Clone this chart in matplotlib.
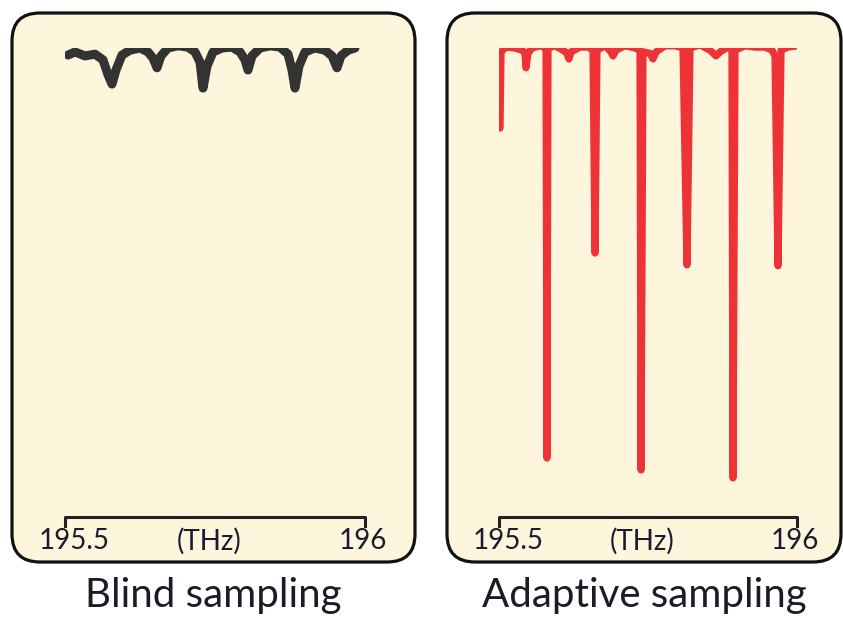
import matplotlib.pyplot as plt
from matplotlib.patches import FancyBboxPatch

plt.rcParams['font.family'] = ['Lato', 'DejaVu Sans']

# blind sampling trace (frequency in THz, normalized transmission)
blind_f = [195.505, 195.5167, 195.5333, 195.55, 195.5633, 195.5717, 195.5783, 195.585,
           195.595, 195.6083, 195.625, 195.6383, 195.6467, 195.6533, 195.66, 195.6717,
           195.6883, 195.705, 195.7167, 195.725, 195.73, 195.7367, 195.7467, 195.7617,
           195.7783, 195.7917, 195.8, 195.805, 195.8117, 195.825, 195.8417, 195.8583,
           195.8717, 195.8783, 195.8833, 195.89, 195.9, 195.9167, 195.9333, 195.945,
           195.9533, 195.96, 195.9717, 195.9833]
blind_t = [0.984, 0.991, 0.982, 0.986, 0.973, 0.939, 0.918, 0.950,
           0.984, 0.995, 1.0, 0.991, 0.977, 0.955, 0.982, 1.0,
           1.005, 1.002, 0.991, 0.968, 0.909, 0.959, 0.991, 1.0,
           1.002, 0.991, 0.973, 0.950, 0.982, 1.0, 1.005, 1.002,
           0.986, 0.950, 0.909, 0.959, 0.991, 1.0, 0.995, 0.982,
           0.955, 0.982, 0.995, 1.0]

# adaptive sampling trace
adapt_f = [195.5017, 195.5034, 195.5117, 195.5268, 195.5386, 195.5436, 195.5453, 195.5487,
           195.5554, 195.5688, 195.5789, 195.5805, 195.5822, 195.594, 195.6074, 195.6141,
           195.6174, 195.6208, 195.6359, 195.6493, 195.6577, 195.6611, 195.6644, 195.6779,
           195.6879, 195.6913, 195.6963, 195.7114, 195.7282, 195.7366, 195.7383, 195.7416,
           195.7534, 195.7584, 195.7634, 195.7785, 195.7953, 195.8087, 195.8154, 195.8205,
           195.8372, 195.854, 195.8641, 195.8708, 195.8842, 195.8909, 195.8926, 195.896,
           195.9128, 195.9295, 195.9463, 195.958, 195.9631, 195.9681, 195.9732, 195.9849,
           196.0]
adapt_t = [0.818, 0.991, 1.002, 1.0, 0.995, 0.988, 0.955, 0.988,
           1.0, 1.005, 1.0, 0.068, 1.0, 1.005, 0.995, 0.988,
           0.975, 0.991, 1.002, 1.002, 0.995, 0.534, 0.995, 1.005,
           0.991, 0.982, 0.995, 1.005, 1.0, 0.995, 0.041, 0.991,
           0.988, 0.975, 0.991, 1.005, 1.005, 1.0, 0.507, 1.0,
           1.007, 0.995, 0.982, 0.991, 1.002, 0.995, 0.023, 0.995,
           1.005, 1.002, 1.002, 0.995, 0.982, 0.505, 0.995, 1.002,
           1.005]

freq_range = [195.5, 196]
range_labels = ['195.5', '(THz)', '196']
titles = ['Blind sampling', 'Adaptive sampling']

W, H = 843, 620
fig = plt.figure(figsize=(W / 100, H / 100), dpi=100)

# background layer in pixel units for the rounded panels and titles
bg = fig.add_axes([0, 0, 1, 1])
bg.set_xlim(0, W)
bg.set_ylim(H, 0)
bg.axis('off')

panels = [(12, 13, 403, 549), (447, 13, 394, 549)]
for (x0, y0, w, h), title in zip(panels, titles):
    box = FancyBboxPatch((x0 + 28, y0 + 28), w - 56, h - 56,
                         boxstyle='round,pad=28', fc='#fdf5dc', ec='#111111', lw=2.3)
    bg.add_patch(box)
    bg.text(x0 + w / 2, 596, title, ha='center', va='center', fontsize=29, color='#1c1c28')

text_col = '#1c1c30'


def draw_panel(left_px, width_px, f, t, color, lw):
    ax = fig.add_axes([left_px / W, (H - 488) / H, width_px / W, 440 / H])
    ax.set_xlim(freq_range)
    ax.set_ylim(0, 1)
    ax.axis('off')
    ax.plot(f, t, color=color, lw=lw, solid_joinstyle='round', solid_capstyle='round')
    # frequency span bar
    ax.plot([freq_range[0], freq_range[0], freq_range[1], freq_range[1]],
            [-0.086, -0.066, -0.066, -0.086], color='#222222', lw=2.2, clip_on=False)
    mid = sum(freq_range) / 2
    ax.text(freq_range[0] + 0.016, -0.12, range_labels[0], ha='center', va='center',
            fontsize=20, color=text_col)
    ax.text(mid - 0.01, -0.12, range_labels[1], ha='center', va='center',
            fontsize=20, color=text_col)
    ax.text(freq_range[1] - 0.003, -0.12, range_labels[2], ha='center', va='center',
            fontsize=20, color=text_col)
    return ax


draw_panel(65, 300, blind_f, blind_t, '#333333', 6.5)
draw_panel(499, 298, adapt_f, adapt_t, '#ee3338', 5.2)

fig.savefig('out.png', dpi=100)
